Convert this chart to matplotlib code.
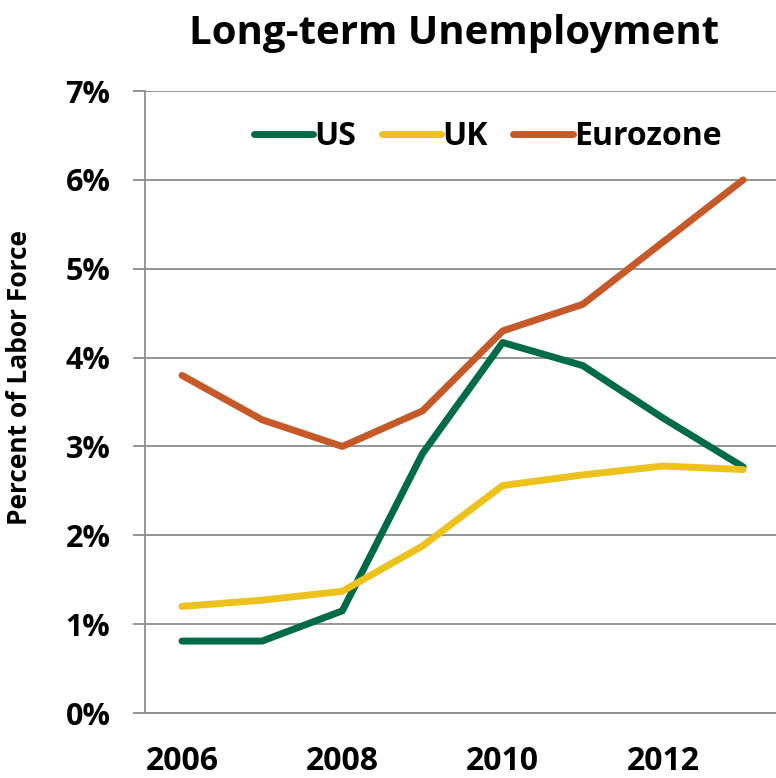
import matplotlib.pyplot as plt
from matplotlib.ticker import FuncFormatter

plt.rcParams['font.family'] = ['Open Sans', 'DejaVu Sans']
plt.rcParams['font.weight'] = 'bold'

years = [2006, 2007, 2008, 2009, 2010, 2011, 2012, 2013]
us = [0.81, 0.81, 1.15, 2.92, 4.17, 3.91, 3.32, 2.77]
uk = [1.20, 1.27, 1.37, 1.88, 2.56, 2.68, 2.78, 2.74]
eurozone = [3.80, 3.30, 3.00, 3.40, 4.30, 4.60, 5.30, 6.00]

fig = plt.figure(figsize=(7.76, 7.78), dpi=100)
ax = fig.add_axes([0.187, 0.0835, 0.813, 0.7995])

ax.plot(years, us, color='#006b47', lw=5, solid_capstyle='round', label='US')
ax.plot(years, uk, color='#eec21c', lw=5, solid_capstyle='round', label='UK')
ax.plot(years, eurozone, color='#c55a28', lw=5, solid_capstyle='round', label='Eurozone')

ax.set_xlim(2005.54, 2013.41)
ax.set_ylim(0, 7)
ax.set_yticks(range(0, 8))
ax.yaxis.set_major_formatter(FuncFormatter(lambda v, p: f'{v:.0f}%'))
ax.set_xticks([2006, 2008, 2010, 2012])
ax.grid(axis='y', color='#8c8c8c', lw=1.3)
ax.set_axisbelow(True)

for s in ['top', 'right']:
    ax.spines[s].set_visible(False)
for s in ['left', 'bottom']:
    ax.spines[s].set_color('#8c8c8c')
    ax.spines[s].set_linewidth(1.3)

ax.tick_params(axis='y', length=9, width=1.3, color='#8c8c8c', pad=16, labelsize=22)
ax.tick_params(axis='x', length=0, pad=23, labelsize=23)

ax.set_ylabel('Percent of Labor Force', fontsize=19, fontweight='bold')
ax.yaxis.set_label_coords(-0.1775, 0.539)
ax.set_title('Long-term Unemployment', fontsize=29, fontweight='bold', pad=34, x=0.49)

ax.legend(loc='upper center', bbox_to_anchor=(0.543, 1.0), ncol=3, frameon=False,
          fontsize=23, handlelength=1.85, handletextpad=0.05, columnspacing=0.8)

fig.savefig('out.png', dpi=100)
